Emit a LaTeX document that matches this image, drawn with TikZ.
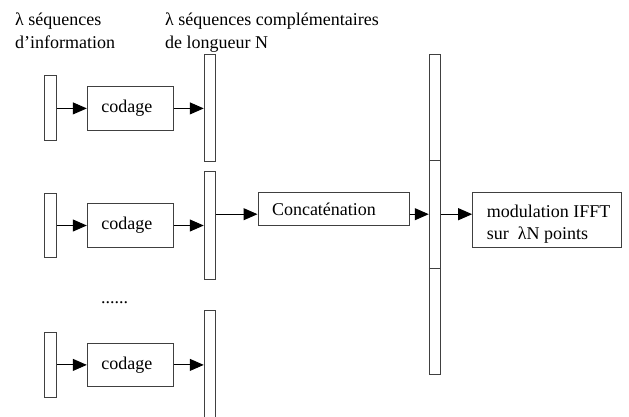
\documentclass[tikz,border=0pt]{standalone}
\usepackage{fontspec}
\setmainfont{Liberation Serif}
\newfontfamily\lserif{Liberation Serif}
\usetikzlibrary{arrows.meta}
\begin{document}
\begin{tikzpicture}[x=1pt,y=-1pt,
  font=\lserif\fontsize{18}{22.6}\selectfont,
  bar/.style={draw=black!75, line width=1pt, fill=white, inner sep=0pt, minimum width=11.5pt},
  blockbox/.style={draw=black!75, line width=1pt, inner xsep=14pt, inner ysep=0pt, align=left},
  txt/.style={inner sep=0pt, align=left},
  arr/.style={-{Triangle[length=14pt,width=12pt]}, line width=1pt, black}]
\useasboundingbox (0,0) rectangle (629,416);
\clip (0,0) rectangle (629,416);

% headers
\node[txt, anchor=north west] (h1) at (15,12.7) {λ séquences\\d’information};
\node[txt, anchor=north west] (h2) at (165,12.7) {λ séquences complémentaires\\de longueur N};

% input bars
\node[bar, minimum height=65pt] (b1) at (50.5,108.4) {};
\node[bar, minimum height=64.5pt] (b2) at (50.5,225.5) {};
\node[bar, minimum height=65.4pt] (b3) at (50.5,364.9) {};

% coding boxes
\node[blockbox, minimum width=86pt, minimum height=43.3pt, text width=58pt] (c1) at (130.3,108.4) {codage};
\node[blockbox, minimum width=86pt, minimum height=43.3pt, text width=58pt] (c2) at (130.3,225.5) {codage};
\node[blockbox, minimum width=86pt, minimum height=43.3pt, text width=58pt] (c3) at (130.3,364.9) {codage};

% tall bars
\node[bar, minimum height=106.7pt] (t1) at (210,107.7) {};
\node[bar, minimum height=107.6pt] (t2) at (210,225.5) {};
\node[bar, minimum height=115pt] (t3) at (210,368.2) {};

\node[txt, anchor=base west] (dots) at (101,303) {......};

% concatenation
\node[blockbox, minimum width=151pt, minimum height=33pt, text width=123pt] (concat) at (333.5,209.2) {Concaténation};

% big bar
\node[bar, minimum height=320.3pt] (big) at (435,214.2) {};
\draw[black!75, line width=1pt] (big.west |- 0,160.7) -- (big.east |- 0,160.7);
\draw[black!75, line width=1pt] (big.west |- 0,268.3) -- (big.east |- 0,268.3);

% modulation
\node[draw=black!75, line width=1pt, minimum width=149.3pt, minimum height=55pt, inner sep=0pt] (mod) at (547.3,220.2) {};
\node[txt, anchor=north west] (modtxt) at (486.7,204.4) {modulation IFFT\\sur~ λN points};

\coordinate (lvl) at (0,214.2);

% arrows
\draw[arr] (b1.east) -- (c1.west |- b1.east);
\draw[arr] (c1.east) -- (t1.west |- c1.east);
\draw[arr] (b2.east) -- (c2.west |- b2.east);
\draw[arr] (c2.east) -- (t2.west |- c2.east);
\draw[arr] (b3.east) -- (c3.west |- b3.east);
\draw[arr] (c3.east) -- (t3.west |- c3.east);
\draw[arr] (t2.east |- lvl) -- (concat.west |- lvl);
\draw[arr] (concat.east |- lvl) -- (big.west |- lvl);
\draw[arr] (big.east |- lvl) -- (mod.west |- lvl);
\end{tikzpicture}
\end{document}
